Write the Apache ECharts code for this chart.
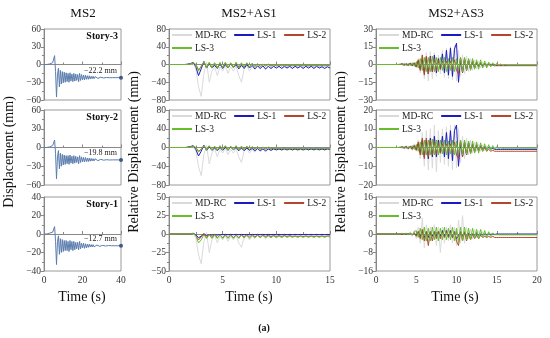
<!DOCTYPE html>
<html><head><meta charset="utf-8">
<script src="https://cdn.jsdelivr.net/npm/echarts@6/dist/echarts.min.js"></script>
<style>html,body{margin:0;padding:0;background:#fff}#c{width:550px;height:338px}</style>
</head><body><div id="c"></div><script>
// ---------------- DATA ----------------
const columnTitles = ['MS2', 'MS2+AS1', 'MS2+AS3'];
const storyLabels = ['Story-3', 'Story-2', 'Story-1'];
const seriesNames = ['MD-RC', 'LS-1', 'LS-2', 'LS-3'];
const timeMax = [40, 15, 20];
const timeTickStep = [20, 5, 5];
const sampleStep = [0.5, 0.25, 0.25];
// y limits [max, tick step] per column, per row (Story-3, Story-2, Story-1)
const yLimitsMS2 = [[60, 30], [60, 30], [40, 20]];
const yLimitsAS1 = [[80, 40], [80, 40], [50, 25]];
const yLimitsAS3 = [[30, 15], [20, 10], [16, 8]];

// MS2 displacement (mm), sampled every 0.5 s, 0..40 s
const ms2Story3 = [
 0,0,0,0,1,1,1,2,2,3,
 4,15,-12,-55,-18,-6,-38,-10,-33,-12,
 -31,-13,-30,-14,-29,-15,-30,-14,-28,-16,
 -29,-15,-28,-16,-27,-17,-29,-15,-27,-17,
 -26,-18,-26,-18,-25,-19,-25,-19,-24.5,-20,
 -24,-20,-24,-20.5,-23.5,-21,-23.5,-21,-23,-21.5,
 -23,-21.5,-22.8,-21.8,-22.6,-21.9,-22.5,-22,-22.4,-22.1,
 -22.3,-22.2,-22.3,-22.2,-22.2,-22.2,-22.2,-22.2,-22.2,-22.2,
 -22.2];
const ms2Story2 = [
 0,0,0,0,1,1,1,2,2,3,
 4,12,-10,-50,-15,-5,-34,-9,-30,-11,
 -28,-12,-27,-13,-26,-13,-27,-12,-25,-14,
 -26,-13,-25,-14,-24,-15,-26,-13,-24,-15,
 -23,-16,-23,-16,-22.5,-17,-22.5,-17,-22,-17.5,
 -21.5,-18,-21.5,-18,-21,-18.5,-21,-18.5,-20.5,-19,
 -20.5,-19,-20.3,-19.3,-20.2,-19.5,-20.1,-19.6,-20,-19.7,
 -19.9,-19.8,-19.9,-19.8,-19.8,-19.8,-19.8,-19.8,-19.8,-19.8,
 -19.8];
const ms2Story1 = [
 0,0,0,0,0,1,1,1,2,2,
 3,8,-8,-33,-8,-2,-22,-5,-20,-6,
 -19,-7,-18,-7,-18,-8,-19,-7,-17,-8,
 -18,-8,-17,-9,-16,-9,-17,-8,-16,-10,
 -15,-10,-15.5,-10.5,-15,-11,-14.5,-11,-14,-11.5,
 -14,-11.5,-13.8,-11.8,-13.6,-12,-13.5,-12,-13.3,-12.2,
 -13.2,-12.3,-13.1,-12.4,-13,-12.5,-12.9,-12.5,-12.8,-12.6,
 -12.7,-12.7,-12.7,-12.7,-12.7,-12.7,-12.7,-12.7,-12.7,-12.7,
 -12.7];

// MS2+AS1 relative displacement (mm), every 0.25 s, 0..15 s
const as1S3MD = [0,0,0,0, 0,0,0,0, 0,2,-10,-50, -72,-20,5,-40, -15,-5,-25,-5, -15,-3,-20,-5, -15,-3,-25,-40, -10,-3,-15,-5, -12,-4,-10,-3, -12,-5,-9,-4, -8,-5,-8,-5, -7,-5,-7,-5, -7,-5,-7,-5, -6,-5,-6,-5, -6,-5,-6,-5, -6];
const as1S3L1 = [0,0,0,0, 0,0,0,1, 2,5,-5,-25, -10,7,-8,2, -8,-2,-9,1, -9,0,-8,2, -7,0,-10,-2, -9,0,-8,-2, -10,-3,-9,-3, -10,-4,-9,-4, -8,-4,-9,-4, -8,-4,-9,-4, -8,-4,-9,-4, -8,-4,-9,-4, -8,-5,-9,-5, -8];
const as1S3L2 = [0,0,0,0, 0,0,0,0, 1,3,0,-12, -5,5,-6,4, -7,3,-7,3, -6,4,-7,3, -6,4,-6,2, -5,3,-5,2, -4,1,-4,0, -3,0,-3,-1, -3,-1,-3,-1, -3,-2,-3,-2, -3,-2,-3,-2, -3,-2,-3,-2, -3,-2,-3,-2, -2.5];
const as1S3L3 = [0,0,0,0, 0,0,0,0, 1,4,0,-15, -3,6,-7,5, -8,4,-8,5, -7,5,-8,4, -7,5,-7,4, -6,4,-6,3, -5,2,-5,1, -4,1,-4,0, -3,0,-3,-1, -3,-1,-2.5,-1.5, -2.5,-1.5,-2.5,-1.5, -2.5,-1.5,-2.5,-1.5, -2.5,-1.5,-2.5,-1.5, -2];
const as1S2MD = [0,0,0,0, 0,0,0,0, 0,2,-8,-40, -60,-15,4,-35, -12,-3,-20,-4, -12,-2,-15,-4, -12,-2,-20,-32, -8,-2,-12,-4, -10,-3,-8,-2, -10,-4,-7,-3, -6,-4,-6,-4, -6,-4,-6,-4, -6,-4,-6,-4, -5,-4,-5,-4, -5,-4,-5,-4, -5];
const as1S2L1 = [0,0,0,0, 0,0,0,1, 2,4,-4,-18, -8,5,-6,1, -6,-1,-7,0, -6,0,-6,1, -5,0,-7,-1, -7,-1,-6,-2, -7,-2,-7,-3, -7,-3,-6,-3, -5,-3,-5,-3, -5,-3,-5,-3, -5,-3,-5,-3, -5,-3,-5,-3, -5,-3,-5,-3, -4];
const as1S2L2 = [0,0,0,0, 0,0,0,0, 1,2,0,-8, -4,3,-4,3, -5,2,-5,2, -4,3,-5,2, -4,3,-4,1, -4,2,-4,1, -3,1,-3,0, -3,0,-3,-1, -3,-1,-3,-1, -3,-2,-3,-2, -3,-2,-3,-2, -3,-2,-3,-2, -3,-2,-3,-2, -2.5];
const as1S2L3 = [0,0,0,0, 0,0,0,0, 1,3,0,-10, -3,4,-5,4, -6,3,-6,4, -5,4,-6,3, -5,4,-5,3, -5,3,-5,2, -4,2,-4,1, -3,1,-3,0, -3,0,-3,-1, -3,-1,-3,-1, -2.5,-1.5,-2.5,-1.5, -2.5,-1.5,-2.5,-1.5, -2.5,-1.5,-2.5,-1.5, -2];
const as1S1MD = [0,0,0,0, 0,0,0,0, 0,1,-5,-28, -40,-10,2,-25, -8,-2,-12,-3, -8,-2,-10,-3, -8,-2,-12,-18, -5,-2,-8,-3, -6,-2,-5,-2, -6,-3,-5,-2, -4,-3,-4,-3, -4,-3,-4,-3, -4,-3,-4,-3, -4,-3,-4,-3, -4,-3,-4,-3, -3];
const as1S1L1 = [0,0,0,0, 0,0,0,0, 0,1,-1,-5, -3,0,-2,-1, -1.5,-0.5,-1.5,-0.5, -1,-0.5,-1,-0.5, -1,-0.5,-1,-0.5, -1,-0.5,-1,-0.5, -1,-0.5,-1,-0.5, -1,-0.5,-1,-0.5, -1,-0.5,-1,-0.5, -1,-0.5,-1,-0.5, -1,-0.5,-1,-0.5, -1,-0.5,-1,-0.5, -1,-0.5,-1,-0.5, -1];
const as1S1L2 = [0,0,0,0, 0,0,0,0, 0,1,-2,-8, -4,1,-5,0, -5,0,-5,-1, -5,-1,-5,-1, -5,-1,-5,-1, -4,-1,-4,-1, -4,-1.5,-4,-1.5, -3.5,-1.5,-3.5,-2, -3.5,-2,-3.5,-2, -3.5,-2,-3.5,-2.5, -3.5,-2.5,-3.5,-2.5, -3.5,-2.5,-3.5,-2.5, -3.5,-2.5,-3.5,-2.5, -3];
const as1S1L3 = [0,0,0,0, 0,0,0,0, 0,0.5,-2,-12, -8,-1,-6,-1, -6,-1,-6,-1, -6,-1.5,-6,-1.5, -6,-1.5,-6,-1.5, -5.5,-2,-5.5,-2, -5,-2,-5,-2, -5,-2.5,-5,-2.5, -5,-2.5,-5,-2.5, -4.5,-3,-4.5,-3, -4.5,-3,-4.5,-3, -4.5,-3,-4.5,-3, -4.5,-3,-4.5,-3, -4];

// MS2+AS3 relative displacement (mm), every 0.25 s, 0..20 s
const as3S3MD = [0,0,0,0, 0,0,0,0, 0,0,0,0, 0,1,-1,1, -1,1.5,-1.5,2, -3,5,-7,9, -12,10,-14,11, -12,10,-10,8, -8,12,-11,14, -12,15,-13,16, -14,12,-10,8, -8,7,-6,5, -5,4,-4,3, -3,2,-2,1.5, -1.5,1,-1,0.5, -0.5,-0.5,-0.5,-0.5, -0.5,-0.5,-0.5,-0.5, -0.5,-0.5,-0.5,-0.5, -0.5,-0.5,-0.5,-0.5, -0.5,-0.5,-0.5,-0.5, -0.5];
const as3S3L1 = [0,0,0,0, 0,0,0,0, 0,0,0,0, 0,0.5,-0.5,0.5, -0.5,1,-1,1, -2,3,-4,4, -7,6,-8,7, -6,8,-7,5, -4,9,-7,12, -9,14,-10,13, 18,-15,5,-7, 5,-5,4,-4, 3,-3,2,-2, 1.5,-1.5,1,-1, 0.5,-0.5,0,-0.5, -0.8,-0.8,-0.8,-0.8, -0.8,-0.8,-0.8,-0.8, -0.8,-0.8,-0.8,-0.8, -0.8,-0.8,-0.8,-0.8, -0.8,-0.8,-0.8,-0.8, -0.8];
const as3S3L2 = [0,0,0,0, 0,0,0,0, 0,0,0,0, 0,0.5,-0.5,0.5, -1,1,-1,1.5, -2,4,-5,8, -9,7,-8,6, -6,5,-5,4, -4,3,-3,3, -3,3,-4,4, -5,-8,6,-7, 5,-5,4,-4, 3,-3,2,-2, 1.5,-2,1,-1.5, 0,-1,-0.5,-1, -1,-1,-1,-1, -1,-1,-1,-1, -1,-1,-1,-1, -1,-1,-1,-1, -1,-1,-1,-1, -1];
const as3S3L3 = [0,0,0,0, 0,0,0,0, 0,0,0,0, 0.5,-0.5,1,-1, 1,-1,1.5,-1.5, 2,-3,5,-5, 6,-6,6,-6, 7,-6,6,-6, 6,-5,6,-6, 5,-5,6,-6, 5,-5,6,-6, 6,-5,5,-5, 5,-4,4,-4, 4,-3,3,-3, 2,-2,1.5,-1.5, 1,-1,0.5,-1, 0,-0.5,-0.5,-0.5, -0.5,-0.5,-0.5,-0.5, -0.5,-0.5,-0.5,-0.5, -0.5,-0.5,-0.5,-0.5, -0.5];
const as3S2MD = [0,0,0,0, 0,0,0,0, 0,0,0,0, 0,0.5,-0.5,1, -1,1,-1.5,2, -2,4,-6,8, -10,9,-12,10, -11,12,-13,9, -8,10,-9,11, -10,12,-12,12, -11,10,-8,6, -6,5,-4,4, -3,3,-2,2, -2,1.5,-1.5,1, -1,0.5,-0.5,0, -0.5,-0.5,-0.5,-0.5, -0.5,-0.5,-0.5,-0.5, -0.5,-0.5,-0.5,-0.5, -0.5,-0.5,-0.5,-0.5, -0.5,-0.5,-0.5,-0.5, -0.5];
const as3S2L1 = [0,0,0,0, 0,0,0,0, 0,0,0,0, 0,0.3,-0.3,0.5, -0.5,0.5,-0.5,1, -1,2,-3,4, -5,4,-6,5, -5,6,-5,4, -3,6,-5,8, -6,9,-7,9, 12,-10,3,-5, 3,-4,3,-3, 2,-2,1.5,-1.5, 1,-1,0.5,-1, 0,-0.5,-0.5,-1, -1,-1,-1,-1, -1,-1,-1,-1, -1,-1,-1,-1, -1,-1,-1,-1, -1,-1,-1,-1, -1];
const as3S2L2 = [0,0,0,0, 0,0,0,0, 0,0,0,0, 0,0.3,-0.3,0.5, -0.5,0.5,-1,1, -1.5,3,-4,5, -6,5,-5,4, -4,3,-3.5,2.5, -3,2,-2,2, -2,2,-3,3, -4,-6,4,-5, 3,-4,2,-3, 1.5,-2.5,1,-2, 0.5,-2,0,-2, -1,-2,-1.5,-2, -2,-2,-2,-2, -2,-2,-2,-2, -2,-2,-2,-2, -2,-2,-2,-2, -2,-2,-2,-2, -2];
const as3S2L3 = [0,0,0,0, 0,0,0,0, 0,0,0,0, 0.3,-0.3,0.5,-0.5, 0.5,-0.5,1,-1, 1.5,-2,3,-4, 4,-4,4,-4, 4.5,-4,4,-4, 4,-3.5,4,-4, 3.5,-3.5,4,-4, 3.5,-3.5,4,-4, 4,-3.5,3.5,-3.5, 3.5,-3,3,-3, 2.5,-2,2,-2, 1.5,-1.5,1,-1, 0.5,-0.5,0,-0.5, -0.3,-0.3,-0.3,-0.3, -0.3,-0.3,-0.3,-0.3, -0.3,-0.3,-0.3,-0.3, -0.3,-0.3,-0.3,-0.3, -0.3];
const as3S1MD = [0,0,0,0, 0,0,0,0, 0,0,0,0, 0,0.5,-0.5,0.5, -0.5,1,-1,1.5, -2,3,-4,7, -6,4,-4,3, -3,4,-5,3, -8,3,-4,3, -3,4,-4,3, -5,6,-4,8, -4,3,-2,2, -2,2,-1.5,1.5, -1,1,-1,0.5, -0.5,0.5,-0.5,0, -0.5,-0.5,-0.5,-0.5, -0.5,-0.5,-0.5,-0.5, -0.5,-0.5,-0.5,-0.5, -0.5,-0.5,-0.5,-0.5, -0.5,-0.5,-0.5,-0.5, -0.5];
const as3S1L1 = [0,0,0,0, 0,0,0,0, 0,0,0,0, 0,0,0,0, 0,0.3,-0.3,0.3, -0.5,1,-1,1, -1.5,1,-1.5,1, -1,1,-1,1, -1,1.5,-1,1.5, -1,1.5,-1.5,1, -2,-1,1,-1, 0.5,-1,0.5,-0.5, 0,-0.5,0,-0.5, 0,-0.3,0,-0.3, 0,-0.2,0,-0.2, 0,0,0,0, 0,0,0,0, 0,0,0,0, 0,0,0,0, 0,0,0,0, 0];
const as3S1L2 = [0,0,0,0, 0,0,0,0, 0,0,0,0, 0,0,0,0, 0,0.3,-0.3,0.5, -1,1,-2,2, -3,1,-5,1, -3,1,-2,1, -2,1,-1.5,1, -1.5,1,-1.5,1, -3,-5,1,-3, 1,-3,0,-2.5, 0,-2,-0.5,-2, -0.5,-1.5,-1,-1.5, -1,-1.5,-1,-1.5, -1.5,-1.5,-1.5,-1.5, -1.5,-1.5,-1.5,-1.5, -1.5,-1.5,-1.5,-1.5, -1.5,-1.5,-1.5,-1.5, -1.5,-1.5,-1.5,-1.5, -1.5];
const as3S1L3 = [0,0,0,0, 0,0,0,0, 0,0,0,0, 0,0.3,-0.3,0.3, -0.3,0.5,-0.5,1, 1.5,-1.5,2.5,-2.5, 3,-3,2.5,-3, 3,-2.5,3,-3, 2.5,-2.5,3,-2.5, 2.5,-2.5,3,-3, 2.5,-3.5,3,-3, 3,-2.5,2.5,-2.5, 2.5,-2,2,-2, 2,-1.5,1.5,-1.5, 1,-1,0.5,-0.5, 0,-0.3,-0.3,-0.3, -0.3,-0.3,-0.3,-0.3, -0.3,-0.3,-0.3,-0.3, -0.3,-0.3,-0.3,-0.3, -0.3,-0.3,-0.3,-0.3, -0.3];

// ---------------- LAYOUT / STYLE ----------------
const FONT = '"Liberation Serif", "Times New Roman", serif';
const colBoxes = [{left: 44, width: 77}, {left: 169, width: 161}, {left: 376, width: 161}];
const rowBoxes = [{top: 29, height: 71}, {top: 110, height: 75}, {top: 197, height: 74}];
const lineColors = {'MD-RC': '#dadada', 'LS-1': '#1b1bc2', 'LS-2': '#b4472b', 'LS-3': '#68bd2c'};
const ms2Color = '#5a7dad';

const ms2Data = [ms2Story3, ms2Story2, ms2Story1];
const as1Data = [[as1S3MD, as1S3L1, as1S3L2, as1S3L3], [as1S2MD, as1S2L1, as1S2L2, as1S2L3], [as1S1MD, as1S1L1, as1S1L2, as1S1L3]];
const as3Data = [[as3S3MD, as3S3L1, as3S3L2, as3S3L3], [as3S2MD, as3S2L1, as3S2L2, as3S2L3], [as3S1MD, as3S1L1, as3S1L2, as3S1L3]];
const yLimits = [yLimitsMS2, yLimitsAS1, yLimitsAS3];

function pairs(vals, step) { return vals.map((v, i) => [Math.round(i * step * 1000) / 1000, v]); }
function fmtNum(v) { return v < 0 ? '\u2212' + (-v) : String(v); }

const grid = [], xAxis = [], yAxis = [], series = [], legend = [], graphic = [];
let gi = 0;
for (let c = 0; c < 3; c++) {
  for (let r = 0; r < 3; r++) {
    const cb = colBoxes[c], rb = rowBoxes[r];
    grid.push({left: cb.left, top: rb.top, width: cb.width, height: rb.height, show: true,
      borderColor: '#9a9a9a', borderWidth: 1, backgroundColor: 'transparent'});
    xAxis.push({type: 'value', gridIndex: gi, min: 0, max: timeMax[c], interval: timeTickStep[c],
      axisLine: {show: true, lineStyle: {color: '#888'}},
      axisTick: {show: true, inside: true, length: 3, lineStyle: {color: '#888'}},
      minorTick: {show: true, splitNumber: 2, length: 2, lineStyle: {color: '#888'}},
      splitLine: {show: false},
      axisLabel: {show: r === 2, fontFamily: FONT, fontSize: 9.5, color: '#333', margin: 4, formatter: fmtNum}});
    const [ym, ys] = yLimits[c][r];
    yAxis.push({type: 'value', gridIndex: gi, min: -ym, max: ym, interval: ys,
      axisLine: {show: true, lineStyle: {color: '#888'}},
      axisTick: {show: true, length: 3, lineStyle: {color: '#888'}},
      minorTick: {show: true, splitNumber: 2, length: 2, lineStyle: {color: '#888'}},
      splitLine: {show: false},
      axisLabel: {fontFamily: FONT, fontSize: 9.5, color: '#333', margin: 3, formatter: fmtNum}});
    if (c === 0) {
      const vals = ms2Data[r];
      const d = pairs(vals, sampleStep[0]);
      const last = d[d.length - 1];
      series.push({type: 'line', name: 'MS2 ' + storyLabels[r], xAxisIndex: gi, yAxisIndex: gi, data: d,
        showSymbol: false, animation: false, lineStyle: {color: ms2Color, width: 1}, silent: true,
        markPoint: {symbol: 'circle', symbolSize: 4, itemStyle: {color: '#3e5a88'}, animation: false,
          data: [{coord: last, value: last[1]}],
          label: {show: true, position: 'left', offset: [3, -7], fontFamily: FONT, fontSize: 8, color: '#222',
            formatter: p => fmtNum(p.value) + ' mm'}}});
      graphic.push({type: 'text', x: cb.left + cb.width - 3, y: rb.top + 7,
        style: {text: storyLabels[r], font: 'bold 10px ' + FONT, fill: '#111', textAlign: 'right', textVerticalAlign: 'middle'}});
    } else {
      const set = (c === 1 ? as1Data : as3Data)[r];
      for (let k = 0; k < 4; k++) {
        series.push({type: 'line', name: seriesNames[k], xAxisIndex: gi, yAxisIndex: gi,
          data: pairs(set[k], sampleStep[c]), showSymbol: false, animation: false, silent: true,
          color: lineColors[seriesNames[k]], lineStyle: {color: lineColors[seriesNames[k]], width: 1}});
      }
      const lg = {icon: 'rect', itemWidth: 20, itemHeight: 2, itemGap: 8, padding: 0, selectedMode: false,
        textStyle: {fontFamily: FONT, fontSize: 9.5, color: '#222', padding: [0, 0, 0, -2]}};
      legend.push(Object.assign({}, lg, {data: seriesNames.slice(0, 3), left: cb.left + 3, top: rb.top + 1}));
      legend.push(Object.assign({}, lg, {data: seriesNames.slice(3), left: cb.left + 3, top: rb.top + 14}));
    }
    gi++;
  }
}

// titles and axis names
const titleX = [83, 249, 456];
columnTitles.forEach((t, i) => graphic.push({type: 'text', x: titleX[i], y: 14,
  style: {text: t, font: '13px ' + FONT, fill: '#111', textAlign: 'center', textVerticalAlign: 'middle'}}));
const timeX = [82, 249, 455];
timeX.forEach(x => graphic.push({type: 'text', x: x, y: 297,
  style: {text: 'Time (s)', font: '14px ' + FONT, fill: '#111', textAlign: 'center', textVerticalAlign: 'middle'}}));
const yNames = [['Displacement (mm)', 9], ['Relative Displacement (mm)', 134], ['Relative Displacement (mm)', 341]];
yNames.forEach(([t, x]) => graphic.push({type: 'text', x: x, y: 152, rotation: Math.PI / 2,
  style: {text: t, font: '14px ' + FONT, fill: '#111', textAlign: 'center', textVerticalAlign: 'middle'}}));
graphic.push({type: 'text', x: 264, y: 328,
  style: {text: '(a)', font: 'bold 10px ' + FONT, fill: '#111', textAlign: 'center', textVerticalAlign: 'middle'}});

const chart = echarts.init(document.getElementById('c'), null, {renderer: 'canvas'});
chart.setOption({animation: false, textStyle: {fontFamily: FONT}, grid, xAxis, yAxis, series, legend, graphic});
</script></body></html>
